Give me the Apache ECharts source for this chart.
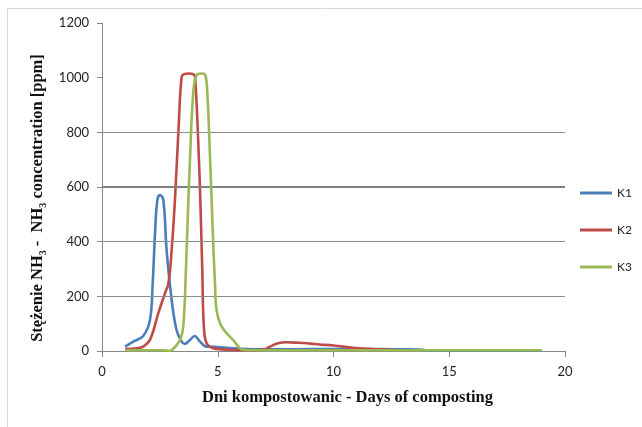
<!DOCTYPE html>
<html>
<head>
<meta charset="utf-8">
<script src="https://cdn.jsdelivr.net/npm/echarts@6/dist/echarts.min.js"></script>
<style>
html,body{margin:0;padding:0;background:#fff;}
#c{width:642px;height:427px;}
</style>
</head>
<body>
<div id="c"></div>
<script>
// Data
var k1Days = [1.0, 1.35, 1.78, 2.07, 2.19, 2.29, 2.39, 2.5, 2.65, 2.79, 3.01, 3.22, 3.44, 3.58, 3.8, 4.0, 4.23, 4.5, 4.8, 5.4, 6, 7, 8, 9, 10, 11, 12, 13, 13.7, 14, 15, 16, 17, 18, 19];
var k1Vals = [16, 34, 55, 113, 248, 430, 552, 571, 552, 370, 187, 77, 34, 26, 40, 55, 35, 16, 15, 12, 8, 6, 6, 7, 7, 7, 7, 6, 5, 3, 2, 2, 2, 2, 2];

var k2Days = [1.0, 1.5, 1.78, 2.07, 2.43, 2.72, 2.87, 3.01, 3.15, 3.31, 3.44, 3.55, 3.75, 3.95, 4.02, 4.16, 4.26, 4.33, 4.4, 4.52, 4.8, 5.2, 5.6, 6, 6.5, 7, 7.26, 7.6, 7.98, 8.5, 9, 9.4, 10, 10.85, 11.5, 12, 12.5];
var k2Vals = [7, 10, 16, 40, 138, 211, 248, 370, 552, 820, 1003, 1013, 1015, 1012, 1003, 760, 516, 300, 89, 28, 10, 6, 4, 3, 2, 6, 16, 28, 32, 30, 27, 24, 20, 12, 8, 6, 4];

var k3Days = [1.0, 2.0, 2.6, 2.9, 3.1, 3.37, 3.51, 3.63, 3.73, 3.8, 3.94, 4.09, 4.3, 4.45, 4.55, 4.67, 4.74, 4.81, 4.88, 4.95, 5.17, 5.67, 6.1, 6.5, 7, 8, 9, 10, 11, 12, 13, 14, 15, 16, 17, 18, 19];
var k3Vals = [3, 3, 3, 0, 10, 40, 89, 308, 552, 699, 943, 1010, 1015, 1012, 943, 699, 540, 380, 248, 150, 89, 40, 4, 3, 3, 3, 3, 3, 3, 3, 3, 3, 3, 3, 3, 3, 3];

var seriesNames = ['K1', 'K2', 'K3'];
var xTicks = [0, 5, 10, 15, 20];
var yTicks = [0, 200, 400, 600, 800, 1000, 1200];
var gridValues = [200, 400, 600, 800];

function pairs(xs, ys) { return xs.map(function (x, i) { return [x, ys[i]]; }); }

var colors = ['#4a7ebb', '#be4b48', '#98b954'];
var chart = echarts.init(document.getElementById('c'));

var gridLines = gridValues.map(function (v) {
  return { yAxis: v, lineStyle: { width: v === 600 ? 2 : 1, color: v === 600 ? '#808080' : '#8c8c8c', type: 'solid' } };
});

function lineSeries(i, xs, ys) {
  return {
    name: seriesNames[i], type: 'line', data: pairs(xs, ys),
    smooth: 0.4, showSymbol: false, symbol: 'none',
    lineStyle: { width: 2.6, color: colors[i] }, itemStyle: { color: colors[i] }, z: 3 + i
  };
}

chart.setOption({
  backgroundColor: '#ffffff',
  animation: false,
  graphic: [{
    type: 'rect', shape: { x: 7.5, y: 8.5, width: 700, height: 500 },
    style: { fill: 'none', stroke: '#d9d9d9', lineWidth: 1 }, silent: true, z: -10
  }],
  grid: { left: 102, right: 77, top: 23, bottom: 76 },
  legend: {
    data: seriesNames,
    orient: 'vertical', left: 575, top: 182,
    icon: 'rect', itemWidth: 32, itemHeight: 3, itemGap: 25,
    textStyle: { fontFamily: 'Lato', fontSize: 12, color: '#222' }
  },
  xAxis: {
    type: 'value', min: 0, max: 20, interval: 5,
    axisLine: { show: true, lineStyle: { color: '#868686', width: 1 } },
    axisTick: { show: true, length: 6, lineStyle: { color: '#868686' } },
    splitLine: { show: false },
    axisLabel: { fontFamily: 'Lato', fontSize: 13, color: '#222', margin: 14,
      formatter: function (v) { return xTicks.indexOf(v) >= 0 ? String(v) : ''; } },
    name: 'Dni kompostowanic - Days of composting',
    nameLocation: 'middle', nameGap: 38,
    nameTextStyle: { fontFamily: 'Liberation Serif', fontWeight: 'bold', fontSize: 16.5, color: '#111', padding: [0, 0, 0, 28] }
  },
  yAxis: {
    type: 'value', min: 0, max: 1200, interval: 200,
    axisLine: { show: true, lineStyle: { color: '#868686', width: 1 } },
    axisTick: { show: true, length: 5, inside: false, lineStyle: { color: '#868686' } },
    splitLine: { show: false },
    axisLabel: { fontFamily: 'Lato', fontSize: 13, color: '#222', margin: 13,
      formatter: function (v) { return yTicks.indexOf(v) >= 0 ? String(v) : ''; } },
    name: '{a|Stężenie NH}{s|3}{a| -  NH}{s|3}{a| concentration [ppm]}',
    nameLocation: 'middle', nameGap: 52, nameRotate: 90,
    nameTextStyle: {
      padding: [0, 22, 0, 0],
      rich: {
        a: { fontFamily: 'Liberation Serif', fontWeight: 'bold', fontSize: 16.5, color: '#111', lineHeight: 20 },
        s: { fontFamily: 'Liberation Serif', fontWeight: 'bold', fontSize: 10, color: '#111', verticalAlign: 'bottom', lineHeight: 20, padding: [7, 0, 0, 0] }
      }
    }
  },
  series: [
    lineSeries(0, k1Days, k1Vals),
    lineSeries(1, k2Days, k2Vals),
    lineSeries(2, k3Days, k3Vals),
    { name: 'grid', type: 'line', data: [], z: 1, silent: true,
      markLine: { silent: true, symbol: ['none', 'none'], label: { show: false }, animation: false, data: gridLines } }
  ]
});
</script>
</body>
</html>
